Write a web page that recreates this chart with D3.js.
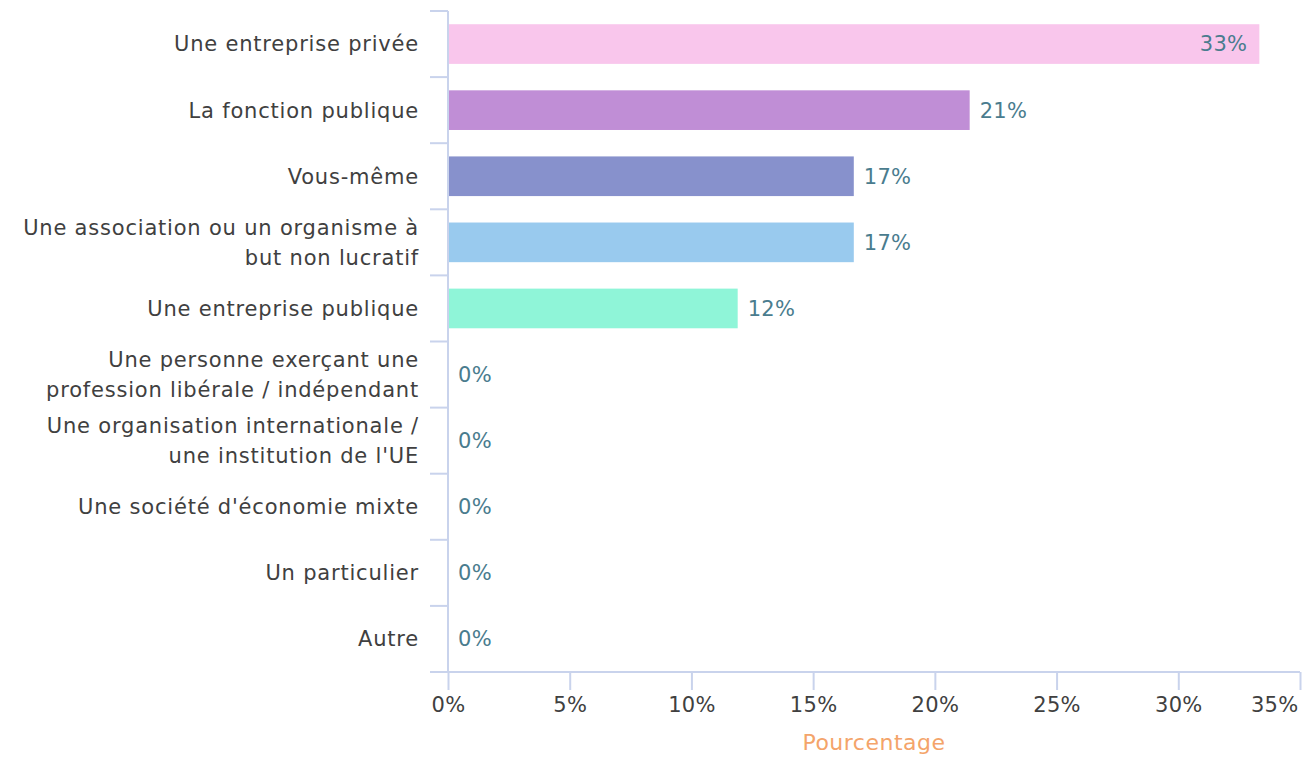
<!DOCTYPE html>
<html><head><meta charset="utf-8">
<script src="https://cdn.jsdelivr.net/npm/d3@7"></script>
<style>body{margin:0;background:#fff}svg{display:block}text{font-family:"DejaVu Sans",sans-serif}</style>
</head><body><svg id="c" width="1313" height="759"></svg>
<script>
const categories = [
  ["Une entreprise privée"],
  ["La fonction publique"],
  ["Vous-même"],
  ["Une association ou un organisme à","but non lucratif"],
  ["Une entreprise publique"],
  ["Une personne exerçant une","profession libérale / indépendant"],
  ["Une organisation internationale /","une institution de l'UE"],
  ["Une société d'économie mixte"],
  ["Un particulier"],
  ["Autre"]
];
const values = [33.33, 21.43, 16.67, 16.67, 11.9, 0, 0, 0, 0, 0];
const valueLabels = ["33%","21%","17%","17%","12%","0%","0%","0%","0%","0%"];
const colors = ["#f9c6ec","#c08ed6","#8791cc","#99caee","#8ff5d8","#f9c6ec","#c08ed6","#8791cc","#99caee","#8ff5d8"];
const xTicks = [0,5,10,15,20,25,30,35];
const axisTitle = "Pourcentage";

const svg = d3.select("#c");
const axisColor = "#c9d3ec";
const x = d3.scaleLinear().domain([0,35]).range([448,1300]);
const y = d3.scaleBand().domain(d3.range(categories.length)).range([11,672]).paddingInner(0.4).paddingOuter(0.2);
const step = y.step();

// y axis line and boundary ticks
svg.append("line").attr("x1",448).attr("x2",448).attr("y1",11).attr("y2",672).attr("stroke",axisColor).attr("stroke-width",2);
d3.range(categories.length+1).forEach(i=>{
  const yy = 11 + i*step;
  svg.append("line").attr("x1",430).attr("x2",448).attr("y1",yy).attr("y2",yy).attr("stroke",axisColor).attr("stroke-width",2);
});

// x axis
const xAxis = d3.axisBottom(x).tickValues(xTicks).tickFormat(d=>d+"%").tickSize(18).tickPadding(7);
const gx = svg.append("g").attr("transform","translate(0,672)").call(xAxis);
gx.select(".domain").attr("stroke",axisColor).attr("stroke-width",2).attr("d","M430,0H1300");
gx.selectAll(".tick line").attr("stroke",axisColor).attr("stroke-width",2);
gx.selectAll("text").attr("fill","#404040").style("font-size","21px").style("letter-spacing","0.3px");
gx.selectAll(".tick").filter(d=>d===35).select("text").attr("text-anchor","end").attr("dx","-2");

// category labels
const lab = svg.append("g");
categories.forEach((lines,i)=>{
  const cy = y(i)+y.bandwidth()/2;
  const t = lab.append("text").attr("text-anchor","end").attr("fill","#404040").style("font-size","21px").style("letter-spacing","0.8px");
  lines.forEach((l,j)=>{
    t.append("tspan").attr("x",419).attr("y",cy + (j-(lines.length-1)/2)*30).attr("dy","0.35em").text(l);
  });
});

// bars
svg.append("g").selectAll("rect").data(values).join("rect")
  .attr("x",x(0)+1).attr("y",(d,i)=>y(i)).attr("height",y.bandwidth())
  .attr("width",d=>Math.max(0,x(d)-x(0)-1)).attr("fill",(d,i)=>colors[i]);

// value labels
svg.append("g").selectAll("text").data(values).join("text")
  .attr("x",(d,i)=> i===0 ? x(d)-12 : x(d)+10)
  .attr("y",(d,i)=>y(i)+y.bandwidth()/2).attr("dy","0.35em")
  .attr("text-anchor",(d,i)=> i===0 ? "end":"start")
  .attr("fill","#4a7c8e").style("font-size","21px").style("letter-spacing","0.3px")
  .text((d,i)=>valueLabels[i]);

svg.append("text").attr("x",874).attr("y",742).attr("dy","0.35em").attr("text-anchor","middle")
  .attr("fill","#f4a46a").style("font-size","22px").style("letter-spacing","0.5px").text(axisTitle);
</script></body></html>
